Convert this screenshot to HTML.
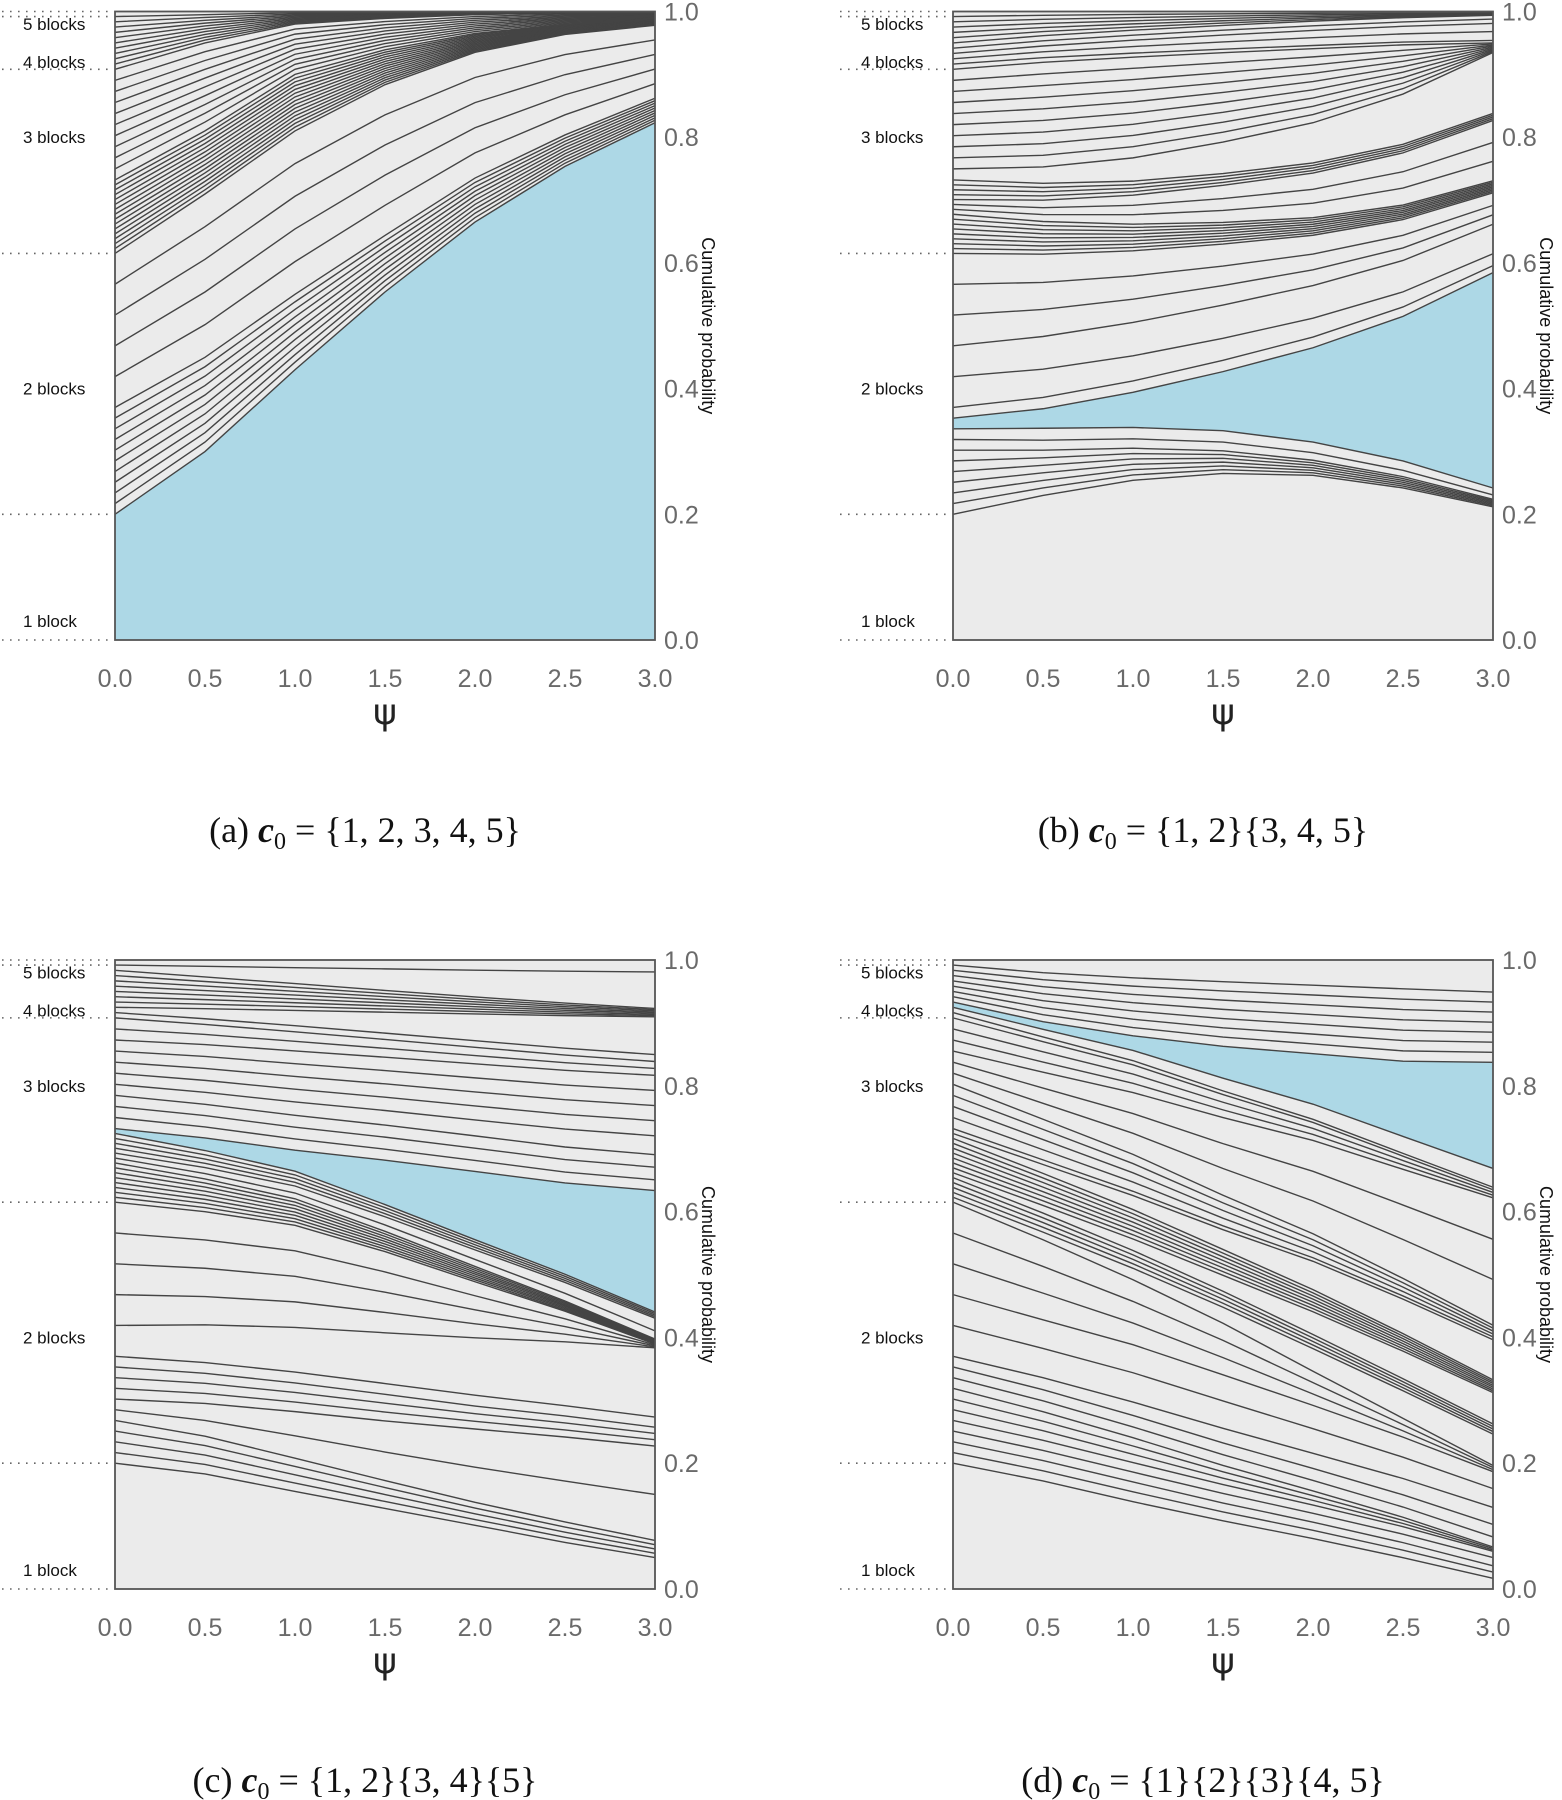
<!DOCTYPE html>
<html><head><meta charset="utf-8"><style>
html,body{margin:0;padding:0;background:#fff;}
svg{display:block;}
.tk{font-family:"Liberation Sans",sans-serif;font-size:25px;fill:#6a6a6a;}
.lb{font-family:"Liberation Sans",sans-serif;font-size:17px;fill:#111;}
.cap{font-family:"Liberation Serif",serif;font-size:36px;fill:#111;}
</style></head><body>
<svg id="fig" width="1562" height="1800" viewBox="0 0 1562 1800" xmlns="http://www.w3.org/2000/svg"></svg>
<script>
const psiValues=[0,0.5,1,1.5,2,2.5,3];
const yTicks=[0,0.2,0.4,0.6,0.8,1.0];
const xTicks=[0,0.5,1,1.5,2,2.5,3];
const blockBounds=[0,0.2,0.615,0.908,0.992,1.0];
const blockLabels=["1 block","2 blocks","3 blocks","4 blocks","5 blocks"];
const blockLabelAt=[0.03,0.4,0.8,0.92,0.98];

// panel a
const aRunSize=[1,10,5,15,10,10,1];
const aRunProb=[
[0.2,0.3,0.43,0.554,0.665,0.754,0.823],
[0.017,0.015,0.012,0.009,0.007,0.005,0.0039],
[0.049,0.052,0.052,0.048,0.04,0.032,0.0232],
[0.0078,0.0067,0.006,0.0037,0.002,0.0011,0.0006],
[0.0176,0.014,0.008,0.005,0.003,0.0018,0.0011],
[0.0084,0.0045,0.0018,0.0009,0.0004,0.00015,0.00015],
[0.008,0.005,0.002,0.002,0.001,0.0005,0.0005]];
const aHighlight=0;

// panel b
const bRunSize=[1,6,1,1,1,1,1,1,1,1,1,8,1,1,1,4,1,9,1,1,1,1,1,5,1];
const bRunProb=[
[0.2,0.23,0.254,0.265,0.262,0.242,0.212],
[0.017,0.012,0.0085,0.006,0.004,0.003,0.002],
[0.017,0.016,0.015,0.014,0.012,0.010,0.007],
[0.017,0.019,0.018,0.018,0.017,0.015,0.011],
[0.017,0.031,0.056,0.094,0.15,0.23,0.343],
[0.017,0.018,0.018,0.018,0.017,0.015,0.011],
[0.049,0.045,0.04,0.035,0.03,0.024,0.019],
[0.049,0.052,0.053,0.053,0.052,0.05,0.047],
[0.049,0.043,0.037,0.031,0.025,0.02,0.015],
[0.049,0.043,0.037,0.031,0.025,0.02,0.015],
[0.049,0.045,0.04,0.035,0.03,0.025,0.020],
[0.0078,0.0065,0.0053,0.0043,0.0035,0.0029,0.0024],
[0.0078,0.011,0.015,0.019,0.023,0.027,0.031],
[0.0078,0.011,0.015,0.019,0.022,0.026,0.030],
[0.0078,0.012,0.016,0.021,0.026,0.030,0.035],
[0.0078,0.0067,0.0056,0.0047,0.0040,0.0034,0.0028],
[0.0176,0.026,0.037,0.050,0.064,0.080,0.097],
[0.0176,0.0185,0.0178,0.0158,0.0131,0.0087,0.0017],
[0.0084,0.0074,0.0064,0.0056,0.0050,0.0045,0.004],
[0.0084,0.0094,0.0105,0.0115,0.0125,0.013,0.014],
[0.0084,0.0092,0.010,0.011,0.0115,0.012,0.013],
[0.0084,0.0082,0.008,0.0077,0.0074,0.0070,0.007],
[0.0084,0.0082,0.008,0.0077,0.0074,0.0068,0.006],
[0.0084,0.0065,0.005,0.0037,0.0025,0.0015,0.0008],
[0.008,0.006,0.0047,0.0036,0.0028,0.0023,0.002]];
const bHighlight=9;

// panel c
const cRunSize=[1,4,1,1,3,1,1,4,8,1,1,4,1,1,2,1,4,2,1,1,7,1,1];
const cRunProb=[
[0.2,0.183,0.153,0.127,0.10,0.073,0.05],
[0.017,0.015,0.013,0.011,0.009,0.008,0.0068],
[0.017,0.025,0.035,0.045,0.055,0.064,0.073],
[0.017,0.027,0.038,0.049,0.06,0.069,0.077],
[0.017,0.016,0.015,0.014,0.012,0.011,0.010],
[0.017,0.017,0.017,0.017,0.017,0.016,0.016],
[0.049,0.06,0.07,0.08,0.09,0.10,0.11],
[0.049,0.045,0.04,0.032,0.022,0.012,0.0015],
[0.0078,0.0065,0.0052,0.004,0.003,0.002,0.001],
[0.0078,0.0085,0.009,0.010,0.011,0.012,0.013],
[0.0078,0.0095,0.011,0.013,0.015,0.017,0.02],
[0.0078,0.0068,0.0058,0.0048,0.0040,0.0032,0.0025],
[0.0078,0.02,0.033,0.07,0.107,0.143,0.193],
[0.0176,0.0175,0.0175,0.0173,0.0172,0.0171,0.017],
[0.0176,0.018,0.0185,0.019,0.0193,0.0196,0.02],
[0.0176,0.019,0.021,0.023,0.025,0.028,0.03],
[0.0176,0.019,0.020,0.021,0.022,0.023,0.024],
[0.0176,0.016,0.015,0.014,0.013,0.012,0.011],
[0.0084,0.009,0.0095,0.010,0.0103,0.0107,0.011],
[0.0084,0.016,0.024,0.033,0.042,0.051,0.06],
[0.0084,0.0072,0.006,0.0049,0.0038,0.0028,0.0019],
[0.0084,0.017,0.025,0.034,0.042,0.05,0.058],
[0.008,0.01,0.012,0.014,0.016,0.0175,0.019]];
const cHighlight=30;

// panel d
const dRunSize=[1,2,1,1,3,1,1,1,1,1,3,1,4,1,7,1,1,4,1,1,1,3,1,1,1,7,1];
const dRunProb=[
[0.2,0.17,0.137,0.107,0.08,0.05,0.017],
[0.017,0.016,0.0155,0.014,0.013,0.012,0.010],
[0.017,0.016,0.0155,0.015,0.014,0.0135,0.013],
[0.017,0.016,0.015,0.014,0.013,0.012,0.010],
[0.017,0.015,0.013,0.010,0.0075,0.005,0.0023],
[0.017,0.017,0.017,0.0168,0.0166,0.0163,0.016],
[0.017,0.0175,0.018,0.0185,0.019,0.0195,0.02],
[0.017,0.019,0.021,0.023,0.024,0.026,0.027],
[0.049,0.046,0.046,0.043,0.039,0.034,0.03],
[0.049,0.045,0.044,0.041,0.037,0.032,0.027],
[0.049,0.042,0.034,0.027,0.018,0.010,0.0033],
[0.0078,0.012,0.018,0.025,0.036,0.044,0.05],
[0.0078,0.0075,0.007,0.0063,0.0056,0.0048,0.004],
[0.0078,0.012,0.018,0.025,0.036,0.044,0.05],
[0.0078,0.0072,0.0066,0.0058,0.005,0.004,0.0029],
[0.0078,0.014,0.022,0.031,0.045,0.055,0.064],
[0.0078,0.0072,0.0067,0.0061,0.0056,0.0051,0.0046],
[0.0176,0.016,0.0145,0.012,0.0095,0.007,0.0046],
[0.0176,0.025,0.033,0.042,0.052,0.062,0.073],
[0.0176,0.024,0.031,0.039,0.047,0.055,0.064],
[0.0176,0.025,0.033,0.041,0.049,0.057,0.066],
[0.0176,0.016,0.0145,0.012,0.0095,0.007,0.0043],
[0.0084,0.0075,0.0066,0.0058,0.005,0.0045,0.004],
[0.0084,0.012,0.016,0.02,0.024,0.027,0.03],
[0.0084,0.012,0.023,0.05,0.08,0.12,0.169],
[0.0084,0.011,0.013,0.0145,0.0155,0.0165,0.016],
[0.008,0.02,0.028,0.034,0.04,0.046,0.051]];
const dHighlight=43;

const svg=document.getElementById('fig');
const NS='http://www.w3.org/2000/svg';
function mk(tag,attrs,parent){const e=document.createElementNS(NS,tag);for(const k in attrs)e.setAttribute(k,attrs[k]);(parent||svg).appendChild(e);return e;}

function expand(sizes,probs){
  const cols=[];
  for(let j=0;j<psiValues.length;j++){
    const col=[];
    sizes.forEach((n,r)=>{for(let k=0;k<n;k++)col.push(probs[r][j]);});
    const s=col.reduce((a,b)=>a+b,0);
    cols.push(col.map(v=>v/s));
  }
  return cols;
}

function drawPanel(cfg){
  const {left,top,right,bottom}=cfg;
  const g=mk('g',{});
  
  
  const xs=v=>left+(v-0)/(3-0)*(right-left);
  const ys=v=>bottom-v*(bottom-top);
  const cols=expand(cfg.sizes,cfg.probs);
  const n=cols[0].length;
  const cum=cols.map(col=>{const c=[0];col.forEach(v=>c.push(c[c.length-1]+v));return c;});
  const bg=mk('rect',{x:left,y:top,width:right-left,height:bottom-top,fill:'#ebebeb'},g);
  
  
  const h=cfg.highlight;
  let pts=[];
  psiValues.forEach((p,j)=>pts.push(xs(p)+','+ys(cum[j][h])));
  for(let j=psiValues.length-1;j>=0;j--)pts.push(xs(psiValues[j])+','+ys(cum[j][h+1]));
  const hp=mk('polygon',{points:pts.join(' '),fill:'#add8e6',stroke:'none'},g);
  
  
  for(let i=1;i<n;i++){
    const lp=psiValues.map((p,j)=>xs(p)+','+ys(cum[j][i])).join(' ');
    const pl=mk('polyline',{points:lp,fill:'none',stroke:'#444','stroke-width':1.4},g);
    
    
  }
  const fr=mk('rect',{x:left,y:top,width:right-left,height:bottom-top,fill:'none',stroke:'#555','stroke-width':1.8},g);
  
  
  yTicks.forEach(v=>{
    const t=mk('text',{x:right+9,y:ys(v)+9,class:'tk'},g);t.textContent=v.toFixed(1);
    
    
  });
  xTicks.forEach(v=>{
    const t=mk('text',{x:xs(v),y:bottom+47,class:'tk','text-anchor':'middle'},g);t.textContent=v.toFixed(1);
    
    
  });
  const xt=mk('text',{x:(left+right)/2,y:bottom+84,'font-family':'"DejaVu Sans",sans-serif','font-size':36,fill:'#222','text-anchor':'middle'},g);
  xt.textContent='ψ';
  
  
  const cy=(top+bottom)/2;
  const yt=mk('text',{x:right+53,y:cy,'font-family':'"Liberation Sans",sans-serif','font-size':18,fill:'#111','text-anchor':'middle',transform:'rotate(90 '+(right+53)+' '+cy+')','dominant-baseline':'central'},g);
  yt.textContent='Cumulative probability';
  
  
  blockBounds.forEach(v=>{
    const d=mk('line',{x1:cfg.dotX0,x2:cfg.dotX1,y1:ys(v),y2:ys(v),stroke:'#666','stroke-width':1.6,'stroke-dasharray':'1.6 6.4'},g);
    
    
  });
  blockLabels.forEach((s,i)=>{
    const t=mk('text',{x:cfg.labX,y:ys(blockLabelAt[i])+6,class:'lb'},g);t.textContent=s;
    
    
  });
  const cap=mk('text',{x:cfg.capX,y:cfg.capY,class:'cap','text-anchor':'middle'},g);
  cap.innerHTML='('+cfg.id+') <tspan font-weight="bold" font-style="italic">c</tspan><tspan font-size="24" dy="7">0</tspan><tspan dy="-7"> = '+cfg.cap+'</tspan>';
  
  
}

drawPanel({id:'a',left:115,right:655,top:11.5,bottom:640,sizes:aRunSize,probs:aRunProb,highlight:aHighlight,dotX0:2,dotX1:110,labX:23,capX:365,capY:842,cap:'{1, 2, 3, 4, 5}'});
drawPanel({id:'b',left:953,right:1493,top:11.5,bottom:640,sizes:bRunSize,probs:bRunProb,highlight:bHighlight,dotX0:840,dotX1:948,labX:861,capX:1203,capY:842,cap:'{1, 2}{3, 4, 5}'});
drawPanel({id:'c',left:115,right:655,top:960,bottom:1589,sizes:cRunSize,probs:cRunProb,highlight:cHighlight,dotX0:2,dotX1:110,labX:23,capX:365,capY:1792,cap:'{1, 2}{3, 4}{5}'});
drawPanel({id:'d',left:953,right:1493,top:960,bottom:1589,sizes:dRunSize,probs:dRunProb,highlight:dHighlight,dotX0:840,dotX1:948,labX:861,capX:1203,capY:1792,cap:'{1}{2}{3}{4, 5}'});
</script>
</body></html>
